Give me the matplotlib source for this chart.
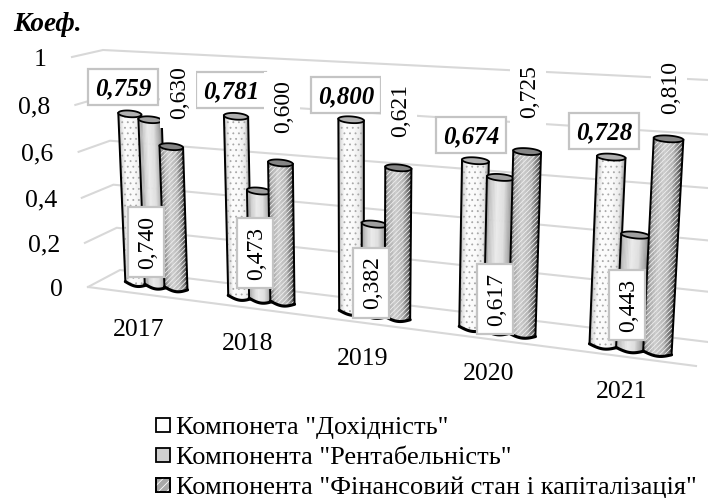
#!/usr/bin/python
import numpy as np
import matplotlib
matplotlib.use('Agg')
import matplotlib.pyplot as plt
from matplotlib.patches import Polygon, Rectangle
from matplotlib.collections import PolyCollection

plt.rcParams['font.family'] = ['Liberation Serif', 'DejaVu Serif']
plt.rcParams['hatch.linewidth'] = 0.6

years = ['2017', '2018', '2019', '2020', '2021']
dohidnist = [0.759, 0.781, 0.800, 0.674, 0.728]
rentabelnist = [0.740, 0.473, 0.382, 0.617, 0.443]
finstan = [0.630, 0.600, 0.621, 0.725, 0.810]
y_ticks = [0, 0.2, 0.4, 0.6, 0.8, 1]
y_labels = ['0', '0,2', '0,4', '0,6', '0,8', '1']
legend_names = ['Компонета "Дохідність"',
                'Компонента "Рентабельність"',
                'Компонента "Фінансовий стан і капіталізація"']

# where the labels sit in the picture (pixels)
year_pos = [(139, 330), (248, 344), (363, 359), (489, 374), (622, 392)]
label1_pos = [(123, 87), (231, 90), (346, 95), (471, 135), (604, 131)]
label2_pos = [(146, 242), (255, 253), (371, 283), (495, 299), (627, 305)]
label3_pos = [(178, 93), (282, 107), (399, 110), (528, 92), (669, 87)]


def fit_homography(world, pixel):
    # plain 4 point fit, (group, value) -> pixel
    a = []
    b = []
    for (u, v), (x, y) in zip(world, pixel):
        a.append([u, v, 1, 0, 0, 0, -u * x, -v * x])
        a.append([0, 0, 0, u, v, 1, -u * y, -v * y])
        b += [x, y]
    h = np.linalg.solve(np.array(a, float), np.array(b, float))
    return np.append(h, 1).reshape(3, 3)


H = fit_homography([(-0.2, 0), (4.2, 0), (-0.2, 1), (4.2, 1)],
                   [(136, 283), (658, 353), (127, 58), (672, 86.3)])


def project(u, v):
    w = H @ np.array([u, v, 1.0])
    return w[:2] / w[2]


def lerp(p, q, t):
    return (1 - t) * np.array(p, float) + t * np.array(q, float)


def wall_t(v):
    # gridlines get a bit wider apart towards the top
    return v * 0.95 / (1 - 0.05 * v)


def shade(stops, t):
    return np.interp(t, [s[0] for s in stops], [s[1] for s in stops])


# brightness across the cylinder, left to right
shading = [
    [(0, 0.35), (0.08, 0.85), (0.25, 0.99), (0.6, 0.98), (0.85, 0.92), (1, 0.6)],
    [(0, 0.66), (0.15, 0.78), (0.4, 0.92), (0.65, 0.87), (0.9, 0.62), (1, 0.45)],
    [(0, 0.42), (0.12, 0.64), (0.4, 0.8), (0.7, 0.7), (0.9, 0.4), (1, 0.15)],
]
top_grey = ['#b0b0b0', '#a0a0a0', '#858585']


def draw_cylinder(ax, center, value, series, bar_width, zorder):
    b_l = project(center - bar_width / 2, 0)
    b_r = project(center + bar_width / 2, 0)
    t_l = project(center - bar_width / 2, value)
    t_r = project(center + bar_width / 2, value)
    semi = 3.3

    # body in thin strips for the gradient
    n = 26
    edges = 0.5 - 0.5 * np.cos(np.linspace(0, np.pi, n + 1))
    polys = []
    colors = []
    for i in range(n):
        s0, s1 = edges[i], edges[i + 1]
        sag0 = semi * np.sin(np.pi * s0)
        sag1 = semi * np.sin(np.pi * s1)
        polys.append([lerp(t_l, t_r, s0), lerp(t_l, t_r, s1),
                      lerp(b_l, b_r, s1) + [0, sag1],
                      lerp(b_l, b_r, s0) + [0, sag0]])
        g = shade(shading[series], (s0 + s1) / 2)
        colors.append((g, g, g))
    ax.add_collection(PolyCollection(polys, facecolors=colors, edgecolors=colors,
                                     linewidths=0.3, zorder=zorder))

    arc = np.linspace(0, np.pi, 30)
    s = 0.5 - 0.5 * np.cos(arc)
    low = np.array([lerp(b_l, b_r, k) + [0, semi * np.sin(np.pi * k)] for k in s])
    outline = np.vstack([t_l, t_r, low[::-1]])

    if series == 0:
        ax.add_patch(Polygon(outline, closed=True, fill=False, edgecolor='#a8a8a8',
                             hatch='...', linewidth=0, zorder=zorder + 0.1))
    elif series == 2:
        ax.add_patch(Polygon(outline, closed=True, fill=False, edgecolor='#f0f0f0',
                             hatch='///////', linewidth=0, zorder=zorder + 0.1))

    ax.plot(low[:, 0], low[:, 1], color='black', lw=2.2, zorder=zorder + 0.2,
            solid_capstyle='round')
    ax.plot([t_l[0], b_l[0]], [t_l[1], b_l[1]], color='black', lw=1.4, zorder=zorder + 0.2)
    ax.plot([t_r[0], b_r[0]], [t_r[1], b_r[1]], color='black', lw=1.4, zorder=zorder + 0.2)

    # top cap
    tt = np.linspace(0, 2 * np.pi, 60)
    mid = lerp(t_l, t_r, 0.5)
    half = (t_r - t_l) / 2
    cap = np.column_stack([mid[0] + np.cos(tt) * half[0],
                           mid[1] + np.cos(tt) * half[1] + np.sin(tt) * semi])
    ax.add_patch(Polygon(cap, closed=True, facecolor=top_grey[series], edgecolor='black',
                         linewidth=1.3, zorder=zorder + 0.3))


def boxed_text(ax, pos, txt, w, h, rotation=0, border=True, zorder=50, **kw):
    ax.add_patch(Rectangle((pos[0] - w / 2, pos[1] - h / 2), w, h, facecolor='white',
                           edgecolor='#c4c4c4' if border else 'none', linewidth=1.6,
                           zorder=zorder))
    dx, dy = (1.5, 0) if rotation else (0, 1.5)
    ax.text(pos[0] + dx, pos[1] + dy, txt, rotation=rotation, ha='center', va='center',
            rotation_mode='anchor', zorder=zorder + 0.5, color='black', **kw)


fig = plt.figure(figsize=(7.08, 4.98), dpi=100)
ax = fig.add_axes([0, 0, 1, 1])
ax.set_xlim(0, 708)
ax.set_ylim(498, 0)
ax.axis('off')

# walls and floor
grid_color = '#d8d8d8'
side_front = [(88, 287), (72, 57)]
side_back = [(120, 270), (103, 50)]
wall_right = [(708, 342), (708, 80)]
for v, lab in zip(y_ticks, y_labels):
    t = wall_t(v)
    a = lerp(side_front[0], side_front[1], t)
    b = lerp(side_back[0], side_back[1], t)
    c = lerp(wall_right[0], wall_right[1], t)
    ax.plot([a[0], b[0], c[0]], [a[1], b[1], c[1]], color=grid_color, lw=1.5, zorder=1)
    ax.text(a[0] - 25, a[1] + 3, lab, ha='right', va='center', fontsize=18.5)
ax.plot([88, 696], [287, 366], color=grid_color, lw=1.5, zorder=1)

series_values = [dohidnist, rentabelnist, finstan]
offsets = [-0.195, 0, 0.195]
for i in range(len(years)):
    for s in range(3):
        draw_cylinder(ax, i + offsets[s], series_values[s][i], s, 0.225 - 0.006 * i,
                      10 + i + s * 0.5)

for i, y in enumerate(years):
    ax.text(year_pos[i][0], year_pos[i][1], y, ha='center', va='center', fontsize=18.5)
    boxed_text(ax, label1_pos[i], ('%.3f' % dohidnist[i]).replace('.', ','), 70, 36,
               fontsize=18, fontweight='bold', fontstyle='italic', zorder=50)
    boxed_text(ax, label2_pos[i], ('%.3f' % rentabelnist[i]).replace('.', ','), 36, 70,
               rotation=90, fontsize=17, zorder=52)
    boxed_text(ax, label3_pos[i], ('%.3f' % finstan[i]).replace('.', ','), 36, 70,
               rotation=90, border=False, fontsize=17, zorder=54)

ax.text(13, 24, 'Коеф.', fontsize=19.5, fontweight='bold', fontstyle='italic',
        ha='left', va='center')

# legend
leg_y = [425, 455, 485]
leg_face = ['white', '#d0d0d0', '#a8a8a8']
leg_hatch = [None, None, '////']
for y, name, face, hatch in zip(leg_y, legend_names, leg_face, leg_hatch):
    ax.add_patch(Rectangle((155.5, y - 7), 14, 14, facecolor=face, edgecolor='black',
                           linewidth=1.3))
    if hatch:
        ax.add_patch(Rectangle((155.5, y - 7), 14, 14, fill=False, edgecolor='white',
                               hatch=hatch, linewidth=0))
        ax.add_patch(Rectangle((155.5, y - 7), 14, 14, fill=False, edgecolor='black',
                               linewidth=1.3))
    ax.text(176, y + 3, name, fontsize=19, ha='left', va='center')

fig.savefig('out.png', dpi=100)
